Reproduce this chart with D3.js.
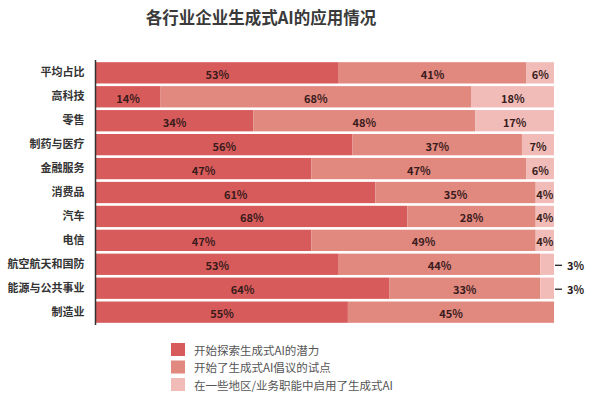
<!DOCTYPE html>
<html><head><meta charset="utf-8">
<script src="https://cdn.jsdelivr.net/npm/d3@7"></script>
<style>
body{margin:0;background:#fff;}
svg text{font-family:"Noto Sans CJK SC","Noto Sans",sans-serif;}
</style></head>
<body><svg id="chart" width="600" height="397"></svg>
<script>
const title = "各行业企业生成式AI的应用情况";
const categories = ["平均占比","高科技","零售","制药与医疗","金融服务","消费品","汽车","电信","航空航天和国防","能源与公共事业","制造业"];
const exploring = [53,14,34,56,47,61,68,47,53,64,55];
const piloting  = [41,68,48,37,47,35,28,49,44,33,45];
const deployed  = [6,18,17,7,6,4,4,4,3,3,0];
const seriesNames = ["开始探索生成式AI的潜力","开始了生成式AI倡议的试点","在一些地区/业务职能中启用了生成式AI"];
const colors = ["#d85b5b","#e1887f","#f1bcb8"];

const svg = d3.select("#chart");
const m = {left:96, right:554, top:61, bottom:324};

const rows = categories.map((c,i)=>({cat:c, vals:[exploring[i],piloting[i],deployed[i]]}));
const x = d3.scaleLinear().domain([0,1]).range([m.left,m.right]);
const y = d3.scaleBand().domain(categories).range([m.top,m.bottom]).paddingInner(0.11).paddingOuter(0.05);

svg.append("text").attr("x",261).attr("y",24).attr("text-anchor","middle")
  .attr("font-size",16.5).attr("font-weight","bold").attr("fill","#3a3a3a").text(title);

const g = svg.append("g");
rows.forEach(r=>{
  const total = d3.sum(r.vals);
  let acc = 0;
  r.vals.forEach((v,k)=>{
    if(v<=0) return;
    const x0 = x(acc/total), x1 = x((acc+v)/total);
    acc += v;
    g.append("rect").attr("x",x0).attr("y",y(r.cat)).attr("width",x1-x0).attr("height",y.bandwidth()).attr("fill",colors[k]);
    const cy = y(r.cat)+y.bandwidth()/2+1;
    if(v<=3){
      g.append("line").attr("x1",x(1)+1).attr("x2",x(1)+8).attr("y1",cy).attr("y2",cy).attr("stroke","#222").attr("stroke-width",1.3);
      g.append("text").attr("x",x(1)+13).attr("y",cy).attr("dominant-baseline","central")
        .attr("font-size",11).attr("font-weight","bold").attr("fill","#2a1a1a").text(v+"%");
    } else {
      g.append("text").attr("x",(x0+x1)/2).attr("y",cy).attr("text-anchor","middle").attr("dominant-baseline","central")
        .attr("font-size",11).attr("font-weight","bold").attr("fill","#3a1c1c").text(v+"%");
    }
  });
});

// axis
const yAxis = d3.axisLeft(y).tickSize(0).tickPadding(11);
const ax = svg.append("g").attr("transform",`translate(${m.left-0.5},0)`).call(yAxis);
ax.select(".domain").attr("stroke","#333").attr("stroke-width",1.5).attr("d",`M0,${m.top-1}V${m.bottom+1}`);
ax.selectAll("text").attr("font-size",11).attr("font-weight","bold").attr("fill","#333")
  .style("font-family",'"Noto Sans CJK SC",sans-serif');

// legend
const lg = svg.append("g");
seriesNames.forEach((s,i)=>{
  const yy = 343 + i*17.5;
  lg.append("rect").attr("x",171).attr("y",yy).attr("width",14).attr("height",13).attr("fill",colors[i]);
  lg.append("text").attr("x",194).attr("y",yy+6.5).attr("dominant-baseline","central")
    .attr("font-size",11.5).attr("fill","#555").text(s);
});
</script></body></html>
